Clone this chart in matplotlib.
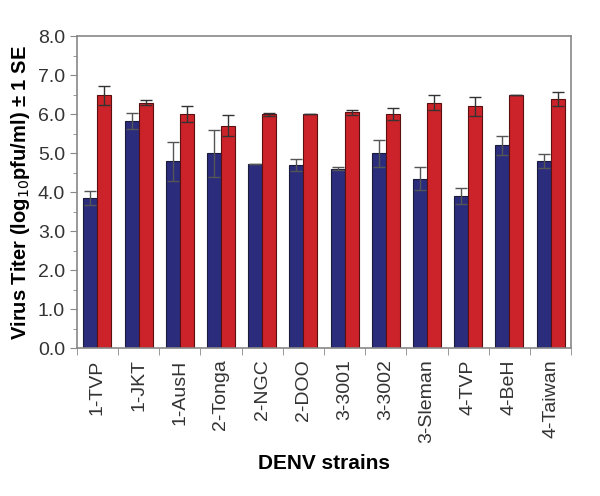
import matplotlib
matplotlib.use("Agg")
import matplotlib.pyplot as plt
import numpy as np
from matplotlib.ticker import MultipleLocator, FixedLocator

plt.rcParams["font.family"] = ["Liberation Sans", "DejaVu Sans"]

strains = ["1-TVP", "1-JKT", "1-AusH", "2-Tonga", "2-NGC", "2-DOO",
           "3-3001", "3-3002", "3-Sleman", "4-TVP", "4-BeH", "4-Taiwan"]
blue_vals = [3.85, 5.82, 4.8, 5.0, 4.72, 4.7, 4.6, 5.0, 4.35, 3.9, 5.2, 4.8]
blue_err = [0.18, 0.2, 0.5, 0.6, 0.0, 0.15, 0.04, 0.35, 0.3, 0.2, 0.25, 0.18]
red_vals = [6.48, 6.3, 6.0, 5.7, 6.0, 6.0, 6.05, 6.0, 6.3, 6.2, 6.5, 6.4]
red_err = [0.25, 0.06, 0.2, 0.27, 0.04, 0.0, 0.06, 0.15, 0.18, 0.24, 0.0, 0.18]

fig = plt.figure(figsize=(6.0, 4.96), dpi=100)
ax = fig.add_axes([0.128, 0.298, 0.824, 0.629])

x = np.arange(len(strains))
w = 0.34
ax.bar(x - w/2, blue_vals, w, color="#2b2d7c", edgecolor="#1a1a3a", linewidth=0.8,
       yerr=blue_err, error_kw=dict(ecolor="#555555", elinewidth=1, capsize=4, capthick=1))
ax.bar(x + w/2, red_vals, w, color="#cc2229", edgecolor="#5a1010", linewidth=0.8,
       yerr=red_err, error_kw=dict(ecolor="#333333", elinewidth=1, capsize=4, capthick=1))

ax.set_xlim(-0.5, len(strains) - 0.5)
ax.set_ylim(0, 8)
ax.yaxis.set_major_locator(MultipleLocator(1))
ax.yaxis.set_minor_locator(MultipleLocator(0.5))
ax.set_yticklabels([f"{v:.1f}" for v in ax.get_yticks()])
ax.set_xticks(x)
ax.set_xticklabels(strains, rotation=90, fontsize=14, color="#333333")
ax.xaxis.set_minor_locator(FixedLocator(np.arange(-0.5, len(strains), 1.0)))
ax.tick_params(axis="x", which="major", length=0, pad=8)
ax.tick_params(axis="x", which="minor", length=5, color="#888888")
ax.tick_params(axis="y", which="major", length=5, color="#888888", labelsize=14, labelcolor="#333333")
ax.tick_params(axis="y", which="minor", length=3, color="#888888")
for s in ax.spines.values():
    s.set_color("#888888")
    s.set_linewidth(1.2)

ax.set_ylabel("Virus Titer (log$_{10}$pfu/ml) ± 1 SE", fontsize=14.5, fontweight="bold", labelpad=4)
ax.set_xlabel("DENV strains", fontsize=15, fontweight="bold", labelpad=8)

fig.savefig("out.png", dpi=100)
